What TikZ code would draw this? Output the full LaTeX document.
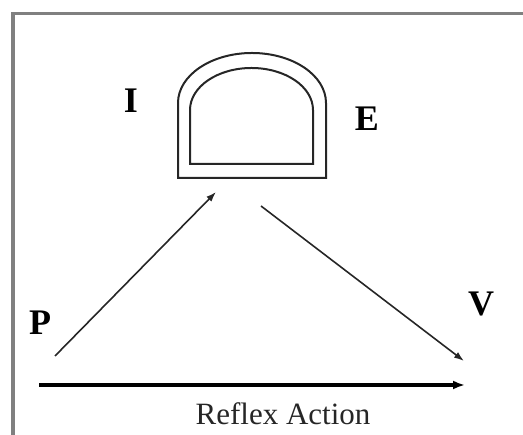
\documentclass[tikz,border=0pt]{standalone}
\usepackage{fontspec}
\setmainfont{Liberation Serif}
\usetikzlibrary{arrows.meta}
\begin{document}
\begin{tikzpicture}[x=1pt,y=1pt,
  frame/.style={draw=black!50,line width=3.5pt},
  arch/.style={draw=black!85,line width=2pt},
  thinarrow/.style={draw=black!85,line width=1.6pt,-{Latex[length=10pt,width=7pt]}},
  thickarrow/.style={draw=black,line width=3.2pt,-{Latex[length=12pt,width=9pt]}},
  lbl/.style={font=\fontsize{36}{40}\selectfont\bfseries,inner sep=0pt},
  captext/.style={font=\fontsize{31}{34}\selectfont,inner sep=0pt,text=black!85}]
\useasboundingbox (0,0) rectangle (523,435);
% frame
\draw[frame] (13,0) -- (13,421.5) -- (523,421.5);
% arch (outer and inner)
\draw[arch] (178,257) -- (178,332) arc[start angle=180,end angle=0,x radius=74,y radius=50] -- (326,257) -- cycle;
\draw[arch] (190,271) -- (190,325) arc[start angle=180,end angle=0,x radius=61.5,y radius=42] -- (313,271) -- cycle;
% labels
\node[lbl] (I) at (131,334) {I};
\node[lbl] (E) at (367,316) {E};
\node[lbl] (P) at (40,112) {P};
\node[lbl] (V) at (481,131) {V};
\node[captext] (R) at (283,21) {Reflex Action};
% connector endpoints
\coordinate (a1) at (55,79);
\coordinate (a2) at (216,243);
\coordinate (b1) at (261,229);
\coordinate (b2) at (464,74);
\coordinate (c1) at (39,50);
\coordinate (c2) at (465,50);
\draw[thinarrow] (a1) -- (a2);
\draw[thinarrow] (b1) -- (b2);
\draw[thickarrow] (c1) -- (c2);
\end{tikzpicture}
\end{document}
